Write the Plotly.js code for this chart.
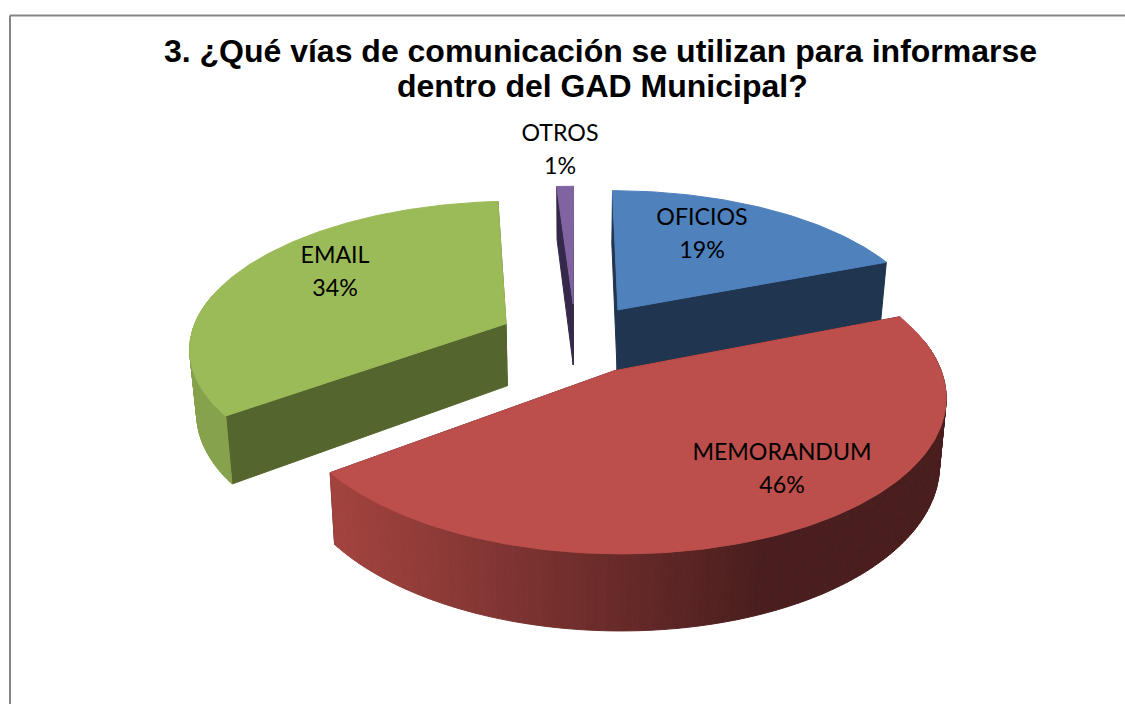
<!DOCTYPE html>
<html>
<head>
<meta charset="utf-8">
<script src="https://cdn.plot.ly/plotly-3.0.1.min.js"></script>
<style>html,body{margin:0;padding:0;background:#fff}#chart{width:1125px;height:704px}</style>
</head>
<body>
<div id="chart"></div>
<script>
// Data
const categories = ["OFICIOS", "MEMORANDUM", "EMAIL", "OTROS"];
const values = [19, 45.8, 34.2, 1];
const titleLine1 = "3. ¿Qué vías de comunicación se utilizan para informarse";
const titleLine2 = "dentro del GAD Municipal?";

// Styles
const topColors = ["#4F81BD", "#BC4E4B", "#9BBB59", "#8064A2"];
const wallColors = ["#20354F", "#4A1E1E", "#55652E", "#35284A"];
const drawOrder = [3, 0, 2, 1];
const labelX = [702, 782, 335, 560];
const labelY = [219.5, 454.5, 257.5, 135.5];
const labelGap = 33;
const labelFont = { family: "Lato, Carlito, sans-serif", size: 23.2, color: "#000" };

// Projection of the tilted, exploded pie onto the chart's axes
const cx = 575.5, cy = 338.5, R = 316, A = 145, persp = 0.15, explode = 0.246, depth = 63, shrink = 0.982;
const total = values.reduce((a, b) => a + b, 0);
const rad = d => d * Math.PI / 180;

function project(theta, r, mid, lower) {
  const u = r * Math.sin(rad(theta)) + explode * Math.sin(rad(mid));
  const v = -r * Math.cos(rad(theta)) - explode * Math.cos(rad(mid));
  const s = 1 / (1 - persp * v);
  let X = cx + R * u * s, Y = cy + A * v * s;
  if (lower) { X = cx + (X - cx) * shrink; Y += depth * s; }
  return [X, Y];
}
function poly(points, color) {
  const xs = points.map(p => p[0]), ys = points.map(p => p[1]);
  xs.push(xs[0]); ys.push(ys[0]);
  return {
    type: "scatter", mode: "lines", x: xs, y: ys, fill: "toself", fillcolor: color,
    line: { color: color, width: 1 }, hoverinfo: "skip", showlegend: false
  };
}
function hexToRgb(h) { return [1, 3, 5].map(i => parseInt(h.substr(i, 2), 16)); }
function mix(a, b, t) {
  const p = hexToRgb(a), q = hexToRgb(b);
  return "rgb(" + p.map((c, i) => Math.round(c + (q[i] - c) * t)).join(",") + ")";
}
function outerColor(i, x) {
  if (categories[i] === "MEMORANDUM") {
    const t = Math.min(1, Math.max(0, (x - 338) / (760 - 338)));
    return mix("#A2433F", "#4A1E1E", t);
  }
  if (categories[i] === "EMAIL") return "#86A24C";
  return wallColors[i];
}

const starts = [];
values.reduce((acc, v, i) => { starts[i] = acc; return acc + v; }, 0);

const traces = [];
drawOrder.forEach(i => {
  const a0 = starts[i] / total * 360, a1 = (starts[i] + values[i]) / total * 360, mid = (a0 + a1) / 2;
  // radial walls
  [a0, a1].forEach(a => traces.push(poly([
    project(a, 0, mid, false), project(a, 1, mid, false),
    project(a, 1, mid, true), project(a, 0, mid, true)
  ], wallColors[i])));
  // outer wall, in slim strips so the shading can change along it
  const n = Math.max(2, Math.ceil(a1 - a0));
  for (let k = 0; k < n; k++) {
    const t0 = a0 + (a1 - a0) * k / n, t1 = a0 + (a1 - a0) * (k + 1) / n;
    if (Math.cos(rad((t0 + t1) / 2)) >= 0.2) continue;
    const p0 = project(t0, 1, mid, false), p1 = project(t1, 1, mid, false);
    traces.push(poly([p0, p1, project(t1, 1, mid, true), project(t0, 1, mid, true)],
      outerColor(i, (p0[0] + p1[0]) / 2)));
  }
  // top face
  const top = [project(a0, 0, mid, false)];
  const m = Math.ceil(a1 - a0);
  for (let k = 0; k <= m; k++) top.push(project(a0 + (a1 - a0) * k / m, 1, mid, false));
  traces.push(poly(top, topColors[i]));
});

traces.push({
  type: "scatter", mode: "text", x: labelX, y: labelY, text: categories,
  textposition: "middle center", textfont: labelFont, hoverinfo: "skip", showlegend: false
});
traces.push({
  type: "scatter", mode: "text", x: labelX, y: labelY.map(y => y + labelGap),
  text: values.map(v => Math.round(v) + "%"),
  textposition: "middle center", textfont: labelFont, hoverinfo: "skip", showlegend: false
});

const titleFont = { family: "Liberation Sans, Arial, sans-serif", size: 32, color: "#000", weight: 700 };
const layout = {
  width: 1125, height: 704,
  margin: { l: 0, r: 0, t: 0, b: 0 },
  paper_bgcolor: "#fff", plot_bgcolor: "#fff",
  title: {
    text: titleLine1, x: 600.5 / 1125, xanchor: "center", xref: "paper",
    y: 1 - 40 / 704, yanchor: "top", yref: "container", font: titleFont
  },
  annotations: [{
    text: titleLine2, xref: "x", yref: "y", x: 602, y: 86, showarrow: false,
    xanchor: "center", yanchor: "middle", font: titleFont
  }],
  xaxis: { range: [0, 1125], visible: false, fixedrange: true },
  yaxis: { range: [704, 0], visible: false, fixedrange: true },
  shapes: [
    { type: "line", xref: "x", yref: "y", x0: 10, x1: 10, y0: 15.5, y1: 704, line: { color: "#868686", width: 2 } },
    { type: "line", xref: "x", yref: "y", x0: 10, x1: 1125, y0: 15.5, y1: 15.5, line: { color: "#868686", width: 2 } }
  ]
};
Plotly.newPlot("chart", traces, layout, { displayModeBar: false, staticPlot: true });
</script>
</body>
</html>
